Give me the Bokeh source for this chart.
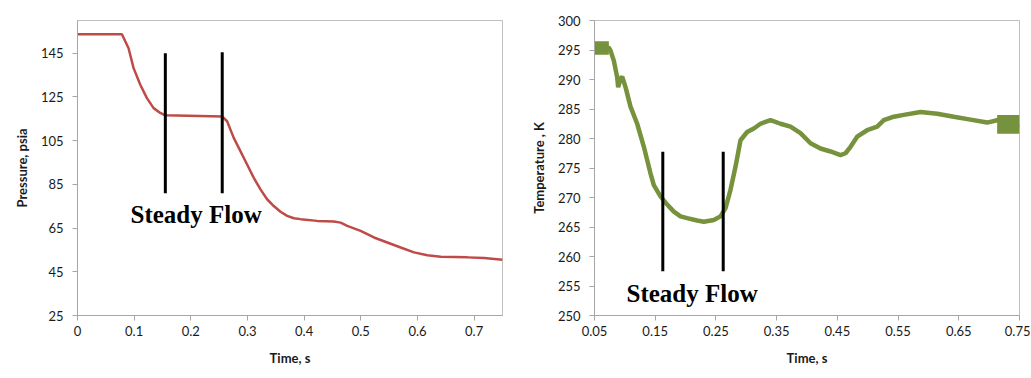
from bokeh.plotting import figure
from bokeh.layouts import row
from bokeh.models import Range1d, FixedTicker
from bokeh.core.properties import value
from bokeh.embed import file_html
from bokeh.resources import INLINE

# ---------------- data: pressure (left) ----------------
p_time = [0.0, 0.0784, 0.0901, 0.099, 0.1108, 0.1225, 0.1343, 0.1461, 0.155, 0.2551,
          0.264, 0.2757, 0.2875, 0.2993, 0.3111, 0.3229, 0.3346, 0.3464, 0.3582, 0.37,
          0.3818, 0.3936, 0.423, 0.4525, 0.4643, 0.476, 0.4996, 0.5232, 0.5467, 0.5703,
          0.5939, 0.6174, 0.641, 0.6881, 0.7176, 0.75]
p_psia = [153.7, 153.7, 147.3, 138.2, 130.6, 124.5, 119.9, 117.7, 116.6, 116.1,
          113.9, 106.3, 100.2, 94.1, 88.0, 82.7, 78.2, 75.1, 72.5, 70.6,
          69.5, 69.1, 68.3, 68.0, 67.5, 66.0, 63.7, 60.7, 58.4, 56.1,
          53.9, 52.6, 51.9, 51.6, 51.3, 50.5]

p_xticks = [0, 0.1, 0.2, 0.3, 0.4, 0.5, 0.6, 0.7]
p_xlabels = ["0", "0.1", "0.2", "0.3", "0.4", "0.5", "0.6", "0.7"]
p_yticks = [25, 45, 65, 85, 105, 125, 145]

p_mark_x = [0.155, 0.2554]
p_mark_y0 = [81.0, 81.0]
p_mark_y1 = [145.0, 145.5]
p_text_x = [0.0935]
p_text_y = [71.4]

# ---------------- data: temperature (right) ----------------
t_time = [0.05, 0.0736, 0.0764, 0.0818, 0.0873, 0.089, 0.0928, 0.0956, 0.1011, 0.1093,
          0.1203, 0.1313, 0.1422, 0.1477, 0.1587, 0.1697, 0.1807, 0.1916, 0.2026, 0.2191,
          0.2301, 0.2465, 0.2575, 0.2658, 0.274, 0.2822, 0.2905, 0.3014, 0.3124, 0.3234,
          0.3399, 0.3564, 0.3728, 0.3893, 0.4058, 0.4222, 0.4387, 0.4552, 0.4634, 0.4717,
          0.4826, 0.4991, 0.5156, 0.5265, 0.543, 0.5595, 0.5869, 0.6144, 0.6418, 0.6693,
          0.6967, 0.7132, 0.7297, 0.7407, 0.75]
t_kelvin = [295.4, 295.4, 294.9, 293.2, 290.4, 288.7, 290.1, 290.5, 288.7, 285.4,
            282.5, 278.6, 274.1, 272.1, 270.2, 268.8, 267.6, 266.8, 266.5, 266.1,
            265.9, 266.2, 266.8, 268.2, 271.3, 275.2, 279.7, 281.1, 281.7, 282.5,
            283.1, 282.5, 282.0, 280.9, 279.2, 278.3, 277.8, 277.2, 277.5, 278.6,
            280.3, 281.4, 282.0, 283.1, 283.7, 284.0, 284.5, 284.2, 283.7, 283.2,
            282.7, 283.1, 283.1, 282.3, 282.0]
# noisy bands (start and end of record)
t_band1_x = [0.05, 0.0736]
t_band1_lo = [294.2, 294.2]
t_band1_hi = [296.5, 296.5]
t_band2_x = [0.7132, 0.75]
t_band2_lo = [280.8, 280.8]
t_band2_hi = [284.0, 284.0]

t_xticks = [0.05, 0.15, 0.25, 0.35, 0.45, 0.55, 0.65, 0.75]
t_xlabels = ["0.05", "0.15", "0.25", "0.35", "0.45", "0.55", "0.65", "0.75"]
t_yticks = [250, 255, 260, 265, 270, 275, 280, 285, 290, 295, 300]

t_mark_x = [0.1625, 0.262]
t_mark_y0 = [257.5, 257.5]
t_mark_y1 = [277.75, 277.75]
t_text_x = [0.1027]
t_text_y = [253.7]

RED = "#BE4B48"
GREEN = "#76923C"
FONT = "Lato"


def style(p, xticks, xlabels, yticks, xlab, ylab):
    p.xgrid.visible = False
    p.ygrid.visible = False
    p.outline_line_color = "#BFBFBF"
    p.outline_line_width = 1
    p.xaxis.ticker = FixedTicker(ticks=xticks)
    p.xaxis.major_label_overrides = {t: l for t, l in zip(xticks, xlabels)}
    p.yaxis.ticker = FixedTicker(ticks=yticks)
    for ax in (p.xaxis[0], p.yaxis[0]):
        ax.axis_line_color = "#A6A6A6"
        ax.major_tick_line_color = "#A6A6A6"
        ax.major_tick_out = 5
        ax.major_tick_in = 0
        ax.minor_tick_line_color = None
        ax.major_label_text_font = FONT
        ax.major_label_text_font_size = "13px"
        ax.major_label_text_color = "#1a1a1a"
        ax.axis_label_text_font = FONT
        ax.axis_label_text_font_size = "13px"
        ax.axis_label_text_font_style = "bold"
        ax.axis_label_text_color = "#1a1a1a"
    p.xaxis.axis_label = xlab
    p.yaxis.axis_label = ylab
    p.xaxis.major_label_standoff = 5
    p.xaxis.axis_label_standoff = 11
    p.yaxis.major_label_standoff = 9
    p.yaxis.axis_label_standoff = 8
    p.yaxis.major_label_orientation = "horizontal"


# ---------- left figure ----------
p1 = figure(width=523, height=370, output_backend="svg", toolbar_location=None,
            x_range=Range1d(0, 0.75), y_range=Range1d(25, 160),
            min_border_left=77, min_border_right=21, min_border_top=18, min_border_bottom=55)
style(p1, p_xticks, p_xlabels, p_yticks, "Time, s", "Pressure, psia")
p1.line(p_time, p_psia, line_color=RED, line_width=2.5)
p1.segment(x0=p_mark_x, y0=p_mark_y0, x1=p_mark_x, y1=p_mark_y1,
           line_color="black", line_width=3)
p1.text(x=p_text_x, y=p_text_y, text=["Steady Flow"], text_font=value("Liberation Serif"),
        text_font_style="bold", text_font_size="25px", text_color="black",
        text_baseline="alphabetic", text_align="left")

# ---------- right figure ----------
p2 = figure(width=507, height=370, output_backend="svg", toolbar_location=None,
            x_range=Range1d(0.05, 0.75), y_range=Range1d(250, 300),
            min_border_left=71, min_border_right=11, min_border_top=20, min_border_bottom=54)
style(p2, t_xticks, t_xlabels, t_yticks, "Time, s", "Temperature , K")
p2.varea(x=t_band1_x, y1=t_band1_lo, y2=t_band1_hi, fill_color=GREEN)
p2.varea(x=t_band2_x, y1=t_band2_lo, y2=t_band2_hi, fill_color=GREEN)
p2.line(t_time, t_kelvin, line_color=GREEN, line_width=4.5)
p2.segment(x0=t_mark_x, y0=t_mark_y0, x1=t_mark_x, y1=t_mark_y1,
           line_color="black", line_width=3)
p2.text(x=t_text_x, y=t_text_y, text=["Steady Flow"], text_font=value("Liberation Serif"),
        text_font_style="bold", text_font_size="25px", text_color="black",
        text_baseline="alphabetic", text_align="left")

layout = row(p1, p2, spacing=0)
open("out.html", "w").write(file_html(layout, INLINE))
